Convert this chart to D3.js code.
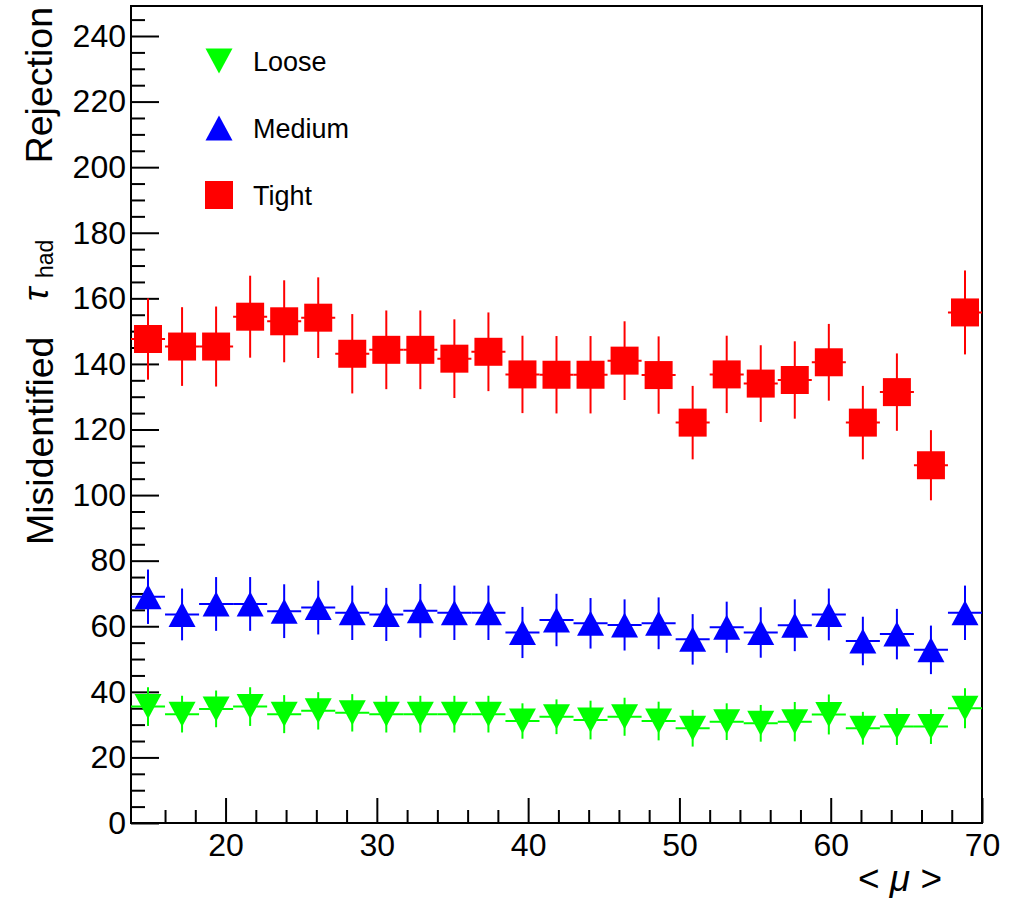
<!DOCTYPE html>
<html>
<head>
<meta charset="utf-8">
<script src="https://cdn.jsdelivr.net/npm/d3@7"></script>
<style>
  html, body { margin: 0; padding: 0; background: #fff; }
  svg { display: block; }
  text { font-family: "Liberation Sans", Arial, Helvetica, sans-serif; fill: #000; }
</style>
</head>
<body>
<svg id="chart" width="1023" height="899"></svg>
<script>
// ---- Data ----
const binLow = 13.75;
const binWidth = 2.25;
const muCenters = [14.875, 17.125, 19.375, 21.625, 23.875, 26.125, 28.375, 30.625, 32.875, 35.125,
                   37.375, 39.625, 41.875, 44.125, 46.375, 48.625, 50.875, 53.125, 55.375, 57.625,
                   59.875, 62.125, 64.375, 66.625, 68.875];

const looseVals = [35.5, 33.2, 34.8, 35.5, 33.2, 34.2, 33.6, 33.2, 33.2, 33.2, 33.2, 31.1, 32.4,
                   31.4, 32.4, 31.1, 28.9, 30.9, 30.4, 30.9, 33.1, 28.9, 29.4, 29.4, 35.0];
const looseErrs = [5.9, 5.6, 5.6, 5.9, 5.8, 5.7, 5.7, 5.6, 5.6, 5.6, 5.6, 5.4, 5.3,
                   5.9, 5.8, 5.9, 5.6, 5.6, 5.6, 6.0, 6.1, 5.0, 5.6, 5.3, 6.1];

const mediumVals = [69.0, 63.6, 66.8, 66.8, 64.6, 65.7, 64.1, 63.6, 64.7, 64.1, 64.1, 58.1, 61.9,
                    60.9, 60.4, 60.9, 56.0, 59.7, 58.1, 60.3, 63.6, 55.5, 57.6, 52.8, 64.1];
const mediumErrs = [8.3, 7.9, 8.2, 8.2, 8.2, 8.2, 8.3, 8.1, 8.2, 8.3, 8.3, 7.8, 8.0,
                    7.7, 7.8, 7.9, 7.7, 7.8, 7.7, 7.9, 7.9, 7.4, 7.7, 7.4, 8.3];

const tightVals = [147.6, 145.3, 145.3, 154.4, 153.0, 154.1, 143.1, 144.3, 144.3, 141.6, 143.7, 136.8, 136.7,
                   136.7, 141.0, 136.6, 122.1, 136.8, 134.0, 135.1, 140.5, 122.1, 131.4, 109.1, 155.7];
const tightErrs = [12.4, 12.0, 12.2, 12.5, 12.5, 12.3, 12.1, 12.0, 12.0, 12.0, 12.0, 11.8, 11.8,
                   11.8, 12.0, 11.8, 11.2, 11.8, 11.7, 11.8, 11.7, 11.2, 11.8, 10.7, 12.8];

const seriesNames = ["Loose", "Medium", "Tight"];
const seriesColors = ["#00ff00", "#0000ff", "#ff0000"];
const seriesMarkers = ["triangleDown", "triangleUp", "square"];

const xMajorTicks = [20, 30, 40, 50, 60, 70];
const xMinorTicks = [16, 18, 22, 24, 26, 28, 32, 34, 36, 38, 42, 44, 46, 48, 52, 54, 56, 58, 62, 64, 66, 68];
const yMajorTicks = [0, 20, 40, 60, 80, 100, 120, 140, 160, 180, 200, 220, 240];
const yMinorTicks = d3.range(5, 250, 5).filter(v => v % 20 !== 0);

const xTitle = "< μ >";
const yTitleParts = ["Misidentified", "τ", "had", "Rejection"];

// ---- Layout ----
const svg = d3.select("#chart");
const frame = { left: 131, right: 982, top: 6, bottom: 823 };
const x = d3.scaleLinear().domain([binLow, 70]).range([frame.left, frame.right]);
const y = d3.scaleLinear().domain([0, 249.15]).range([frame.bottom, frame.top]);

const tickFont = 32;

// frame
svg.append("rect")
  .attr("x", frame.left).attr("y", frame.top)
  .attr("width", frame.right - frame.left).attr("height", frame.bottom - frame.top)
  .attr("fill", "none").attr("stroke", "#000").attr("stroke-width", 2);

// x axis
const xAxisG = svg.append("g").attr("transform", `translate(0,${frame.bottom})`);
xAxisG.call(d3.axisBottom(x).tickValues(xMajorTicks).tickSize(-25).tickPadding(10).tickFormat(d3.format("d")));
const xMinorG = svg.append("g").attr("transform", `translate(0,${frame.bottom})`);
xMinorG.call(d3.axisBottom(x).tickValues(xMinorTicks).tickSize(-13).tickFormat(""));

// y axis
const yAxisG = svg.append("g").attr("transform", `translate(${frame.left},0)`);
yAxisG.call(d3.axisLeft(y).tickValues(yMajorTicks).tickSize(-28).tickPadding(5).tickFormat(d3.format("d")));
const yMinorG = svg.append("g").attr("transform", `translate(${frame.left},0)`);
yMinorG.call(d3.axisLeft(y).tickValues(yMinorTicks).tickSize(-14).tickFormat(""));

[xAxisG, xMinorG, yAxisG, yMinorG].forEach(g => {
  g.select(".domain").remove();
  g.selectAll(".tick line").attr("stroke", "#000").attr("stroke-width", 2);
  g.selectAll(".tick text").attr("font-size", tickFont)
    .style("font-family", '"Liberation Sans", Arial, Helvetica, sans-serif').attr("fill", "#000");
});

// axis titles
svg.append("text")
  .attr("x", 942).attr("y", 891)
  .attr("text-anchor", "end")
  .attr("font-size", 37)
  .html('&lt; <tspan font-style="italic">μ</tspan> &gt;');

const yTitleG = svg.append("g").attr("transform", "rotate(-90)");
yTitleG.append("text").attr("x", -545).attr("y", 53).attr("font-size", 37.5).text(yTitleParts[0]);
yTitleG.append("text").attr("x", -301).attr("y", 48).attr("font-size", 36).attr("font-style", "italic").text(yTitleParts[1]);
yTitleG.append("text").attr("x", -278).attr("y", 53).attr("font-size", 23).text(yTitleParts[2]);
yTitleG.append("text").attr("x", -7).attr("y", 52).attr("font-size", 37.5).attr("text-anchor", "end").text(yTitleParts[3]);

// markers
const triW = 27, triH = 25, sq = 28;
function markerPath(kind) {
  if (kind === "triangleUp") return `M${-triW/2},${triH/2}L${triW/2},${triH/2}L0,${-triH/2}Z`;
  if (kind === "triangleDown") return `M${-triW/2},${-triH/2}L${triW/2},${-triH/2}L0,${triH/2}Z`;
  return `M${-sq/2},${-sq/2}h${sq}v${sq}h${-sq}Z`;
}

const seriesData = [
  muCenters.map((m, i) => ({ mu: m, v: looseVals[i], e: looseErrs[i] })),
  muCenters.map((m, i) => ({ mu: m, v: mediumVals[i], e: mediumErrs[i] })),
  muCenters.map((m, i) => ({ mu: m, v: tightVals[i], e: tightErrs[i] }))
];

seriesData.forEach((data, si) => {
  const color = seriesColors[si];
  const g = svg.append("g");
  // horizontal error bars (bin width)
  g.selectAll("line.h").data(data).enter().append("line")
    .attr("x1", d => x(d.mu - binWidth / 2)).attr("x2", d => x(d.mu + binWidth / 2))
    .attr("y1", d => y(d.v)).attr("y2", d => y(d.v))
    .attr("stroke", color).attr("stroke-width", 2);
  // vertical error bars
  g.selectAll("line.v").data(data).enter().append("line")
    .attr("x1", d => x(d.mu)).attr("x2", d => x(d.mu))
    .attr("y1", d => y(d.v - d.e)).attr("y2", d => y(d.v + d.e))
    .attr("stroke", color).attr("stroke-width", 2);
  // markers
  g.selectAll("path.m").data(data).enter().append("path")
    .attr("d", markerPath(seriesMarkers[si]))
    .attr("transform", d => `translate(${x(d.mu)},${y(d.v)})`)
    .attr("fill", color);
});

// legend
const legend = svg.append("g");
const legendX = 219, legendTextX = 253, legendY0 = 61, legendStep = 67;
seriesNames.forEach((name, i) => {
  const cy = legendY0 + i * legendStep;
  legend.append("path").attr("d", markerPath(seriesMarkers[i]))
    .attr("transform", `translate(${legendX},${cy})`).attr("fill", seriesColors[i]);
  legend.append("text").attr("x", legendTextX).attr("y", cy + 10)
    .attr("font-size", 27).text(name);
});
</script>
</body>
</html>
